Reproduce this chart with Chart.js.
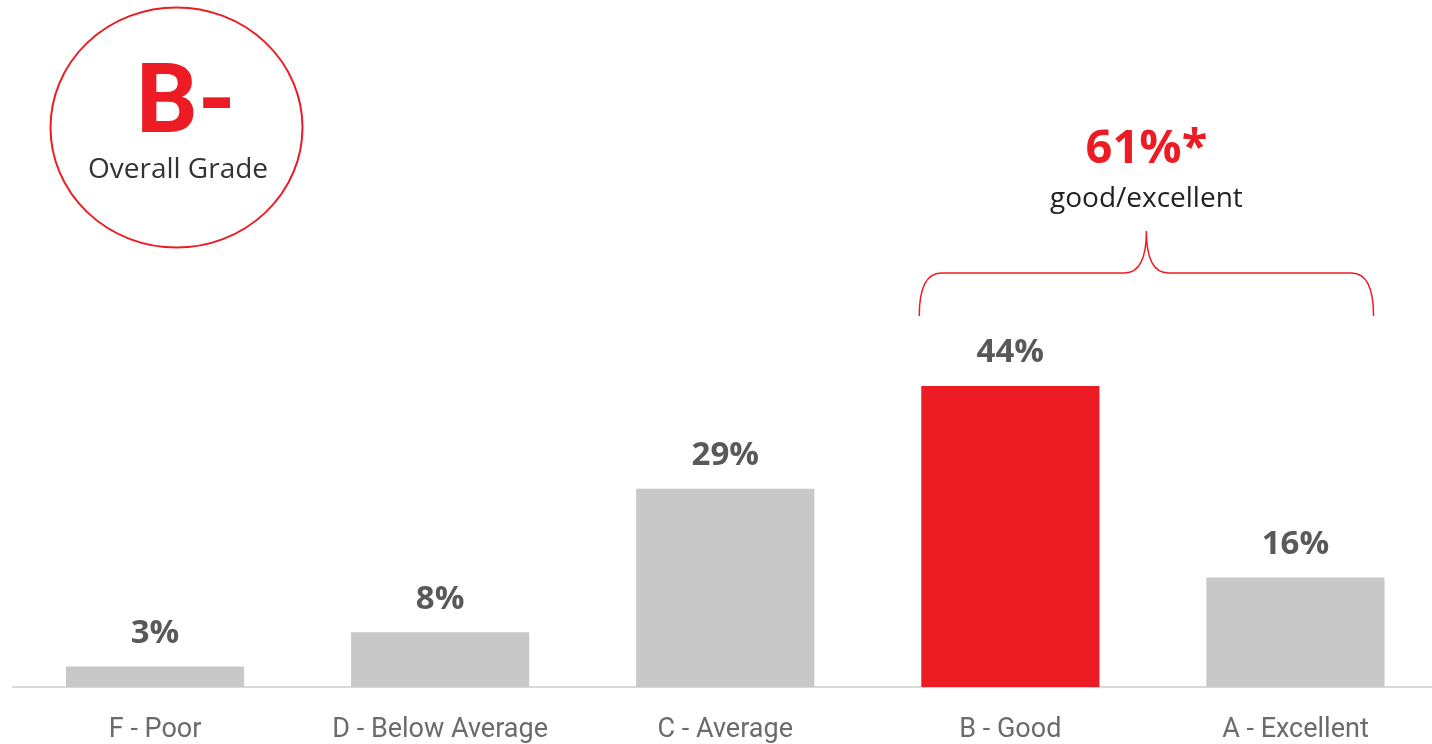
<!DOCTYPE html>
<html>
<head>
<meta charset="utf-8">
<script src="https://cdn.jsdelivr.net/npm/chart.js@4/dist/chart.umd.min.js"></script>
<style>
  html, body { margin: 0; padding: 0; background: #fff; overflow: hidden; }
  #wrap { width: 1438px; height: 744px; }
</style>
</head>
<body>
<div id="wrap"><canvas id="chart"></canvas></div>
<script>
// Distribución de calificaciones
const CATEGORIES = ["F - Poor", "D - Below Average", "C - Average", "B - Good", "A - Excellent"];
const VALUES = [3, 8, 29, 44, 16];
const HIGHLIGHT = 3; // índice de la barra roja
const GRADE = "B-";
const GRADE_LABEL = "Overall Grade";
const TOP_TWO = "61%*";
const TOP_TWO_LABEL = "good/excellent";

const RED = "#ED1C24";
const GREY = "#C8C8C8";
const FONT = "Roboto, 'Liberation Sans', sans-serif";
const FONT2 = "'Open Sans', 'Noto Sans', sans-serif";

// Etiquetas de valor sobre cada barra
const valueLabels = {
  id: "valueLabels",
  afterDatasetsDraw(chart) {
    const ctx = chart.ctx;
    const meta = chart.getDatasetMeta(0);
    ctx.save();
    ctx.font = `bold 33px ${FONT2}`;
    ctx.fillStyle = "#595959";
    ctx.textAlign = "center";
    ctx.textBaseline = "middle";
    meta.data.forEach((bar, i) => {
      ctx.fillText(VALUES[i] + "%", bar.x, bar.y - 33);
    });
    ctx.restore();
  },
};

// Círculo de nota global + llave de "good/excellent"
const extras = {
  id: "extras",
  afterDraw(chart) {
    const ctx = chart.ctx;
    ctx.save();
    // círculo
    ctx.strokeStyle = RED;
    ctx.lineWidth = 2;
    ctx.beginPath();
    ctx.ellipse(176.5, 127.5, 126, 120, 0, 0, Math.PI * 2);
    ctx.stroke();
    ctx.fillStyle = RED;
    ctx.textAlign = "center";
    ctx.textBaseline = "alphabetic";
    ctx.font = `bold 97px ${FONT}`;
    ctx.fillText(GRADE, 186, 132);
    ctx.fillStyle = "#333";
    ctx.font = `28px ${FONT2}`;
    ctx.fillText(GRADE_LABEL, 178, 178);

    // llave sobre B y A
    const meta = chart.getDatasetMeta(0);
    const b = meta.data[3], a = meta.data[4];
    const left = b.x - b.width / 2 - 2;
    const right = a.x + a.width / 2 - 11;
    const mid = (left + right) / 2;
    const yBot = b.y - 70;
    const yH = yBot - 43;
    const yTop = yBot - 85;
    const r = 22;
    ctx.strokeStyle = RED;
    ctx.lineWidth = 1.5;
    ctx.beginPath();
    ctx.moveTo(left, yBot);
    ctx.quadraticCurveTo(left, yH, left + r, yH);
    ctx.lineTo(mid - r, yH);
    ctx.quadraticCurveTo(mid, yH, mid, yTop);
    ctx.quadraticCurveTo(mid, yH, mid + r, yH);
    ctx.lineTo(right - r, yH);
    ctx.quadraticCurveTo(right, yH, right, yBot);
    ctx.stroke();

    ctx.fillStyle = RED;
    ctx.font = `bold 47px ${FONT2}`;
    ctx.fillText(TOP_TWO, mid, yTop - 68);
    ctx.fillStyle = "#222";
    ctx.font = `28px ${FONT2}`;
    ctx.fillText(TOP_TWO_LABEL, mid, yTop - 24);
    ctx.restore();
  },
};

new Chart(document.getElementById("chart"), {
  type: "bar",
  data: {
    labels: CATEGORIES,
    datasets: [{
      data: VALUES,
      backgroundColor: VALUES.map((_, i) => i === HIGHLIGHT ? RED : GREY),
      borderWidth: 0,
      barPercentage: 0.625,
      categoryPercentage: 1,
    }],
  },
  options: {
    responsive: true,
    maintainAspectRatio: false,
    animation: false,
    layout: { padding: { left: 12.5, right: 0, top: 3, bottom: 0 } },
    plugins: { legend: { display: false }, tooltip: { enabled: false } },
    scales: {
      x: {
        grid: { display: false, drawTicks: false },
        border: { display: true, color: "#D9D9D9", width: 2 },
        ticks: { color: "#6B6B6B", font: { family: FONT, size: 27 }, padding: 27, maxRotation: 0 },
        afterFit: s => { s.height = 57; },
      },
      y: { display: false, min: 0, max: 100 },
    },
  },
  plugins: [valueLabels, extras],
});
</script>
</body>
</html>
